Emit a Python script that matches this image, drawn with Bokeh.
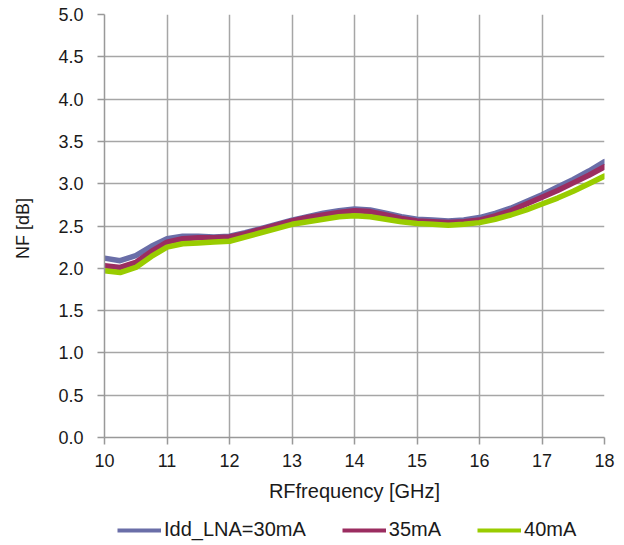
from bokeh.plotting import figure
from bokeh.layouts import column
from bokeh.models import Legend, LegendItem, Range1d, FixedTicker
from bokeh.embed import file_html
from bokeh.resources import INLINE

freq = [10.0, 10.25, 10.5, 10.75, 11.0, 11.25, 11.5, 11.75, 12.0, 12.25, 12.5, 12.75,
        13.0, 13.25, 13.5, 13.75, 14.0, 14.25, 14.5, 14.75, 15.0, 15.25, 15.5, 15.75,
        16.0, 16.25, 16.5, 16.75, 17.0, 17.25, 17.5, 17.75, 18.0]
nf_30 = [2.12, 2.09, 2.15, 2.26, 2.35, 2.38, 2.38, 2.37, 2.38, 2.42, 2.47, 2.52,
         2.57, 2.61, 2.65, 2.68, 2.70, 2.69, 2.65, 2.61, 2.58, 2.57, 2.56, 2.57,
         2.60, 2.65, 2.71, 2.79, 2.87, 2.96, 3.05, 3.15, 3.26]
nf_35 = [2.03, 2.01, 2.07, 2.20, 2.31, 2.35, 2.36, 2.36, 2.37, 2.41, 2.46, 2.51,
         2.56, 2.60, 2.63, 2.66, 2.68, 2.67, 2.63, 2.59, 2.56, 2.55, 2.54, 2.55,
         2.57, 2.62, 2.68, 2.76, 2.84, 2.92, 3.01, 3.10, 3.20]
nf_40 = [1.97, 1.95, 2.01, 2.14, 2.25, 2.29, 2.30, 2.31, 2.32, 2.37, 2.42, 2.47,
         2.52, 2.55, 2.58, 2.61, 2.62, 2.61, 2.58, 2.55, 2.53, 2.52, 2.51, 2.52,
         2.54, 2.58, 2.63, 2.69, 2.76, 2.83, 2.91, 3.00, 3.09]
labels = ["Idd_LNA=30mA", "35mA", "40mA"]
colors = ["#6a6ea8", "#9b2d60", "#99cc00"]
x_ticks = [10, 11, 12, 13, 14, 15, 16, 17, 18]
y_ticks = [0.0, 0.5, 1.0, 1.5, 2.0, 2.5, 3.0, 3.5, 4.0, 4.5, 5.0]
series = [nf_30, nf_35, nf_40]

FONT = "Liberation Sans"

p = figure(width=624, height=510, output_backend="svg", toolbar_location=None,
           x_range=Range1d(10, 18), y_range=Range1d(0, 5),
           min_border_left=104, min_border_right=20, min_border_top=14,
           min_border_bottom=73)
p.outline_line_color = None
p.background_fill_color = "white"
p.border_fill_color = "white"

for ys, c in zip(series, colors):
    p.line(freq, ys, line_color=c, line_width=5.5, line_join="round", line_cap="round")

for ax in (p.xaxis[0], p.yaxis[0]):
    ax.axis_line_color = "#999999"
    ax.axis_line_width = 1.5
    ax.major_tick_line_color = "#999999"
    ax.major_tick_line_width = 1.5
    ax.major_tick_out = 7
    ax.major_tick_in = 0
    ax.minor_tick_line_color = None
    ax.major_label_text_font = FONT
    ax.major_label_text_font_size = "18px"
    ax.major_label_text_color = "#1a1a1a"
    ax.axis_label_text_font = FONT
    ax.axis_label_text_font_style = "normal"
    ax.axis_label_text_color = "#1a1a1a"

p.xaxis.axis_label_text_font_size = "20px"
p.yaxis.axis_label_text_font_size = "18px"
p.xaxis.ticker = FixedTicker(ticks=x_ticks)
p.yaxis.ticker = FixedTicker(ticks=y_ticks)
p.yaxis.major_label_overrides = {v: f"{v:.1f}" for v in y_ticks}
p.xaxis.axis_label = "RFfrequency [GHz]"
p.yaxis.axis_label = "NF  [dB]"
p.xaxis.major_label_standoff = 9
p.xaxis.axis_label_standoff = 10
p.yaxis.major_label_standoff = 14
p.yaxis.axis_label_standoff = 22

p.xgrid.ticker = FixedTicker(ticks=x_ticks)
p.ygrid.ticker = FixedTicker(ticks=y_ticks)
p.grid.grid_line_color = "#a6a6a6"
p.grid.grid_line_width = 1.5

# legend strip below the chart (same series, drawn off-range so only the legend shows)
pl = figure(width=624, height=35, output_backend="svg", toolbar_location=None,
            x_range=Range1d(0, 1), y_range=Range1d(0, 1),
            x_axis_type=None, y_axis_type=None, min_border=0)
pl.outline_line_color = None
pl.grid.visible = False
leg_renderers = [pl.line(freq, ys, line_color=c, line_width=4) for ys, c in zip(series, colors)]

legend = Legend(items=[LegendItem(label=l, renderers=[r]) for l, r in zip(labels, leg_renderers)],
                orientation="horizontal", location=(13, 4))
legend.label_text_font = FONT
legend.label_text_font_size = "20px"
legend.label_text_color = "#1a1a1a"
legend.glyph_width = 44
legend.glyph_height = 16
legend.label_height = 16
legend.label_standoff = 3
legend.spacing = 36
legend.border_line_color = None
legend.background_fill_alpha = 0
legend.padding = 0
legend.margin = 0
pl.add_layout(legend, "center")

open("out.html", "w").write(file_html(column(p, pl, spacing=0), INLINE))
